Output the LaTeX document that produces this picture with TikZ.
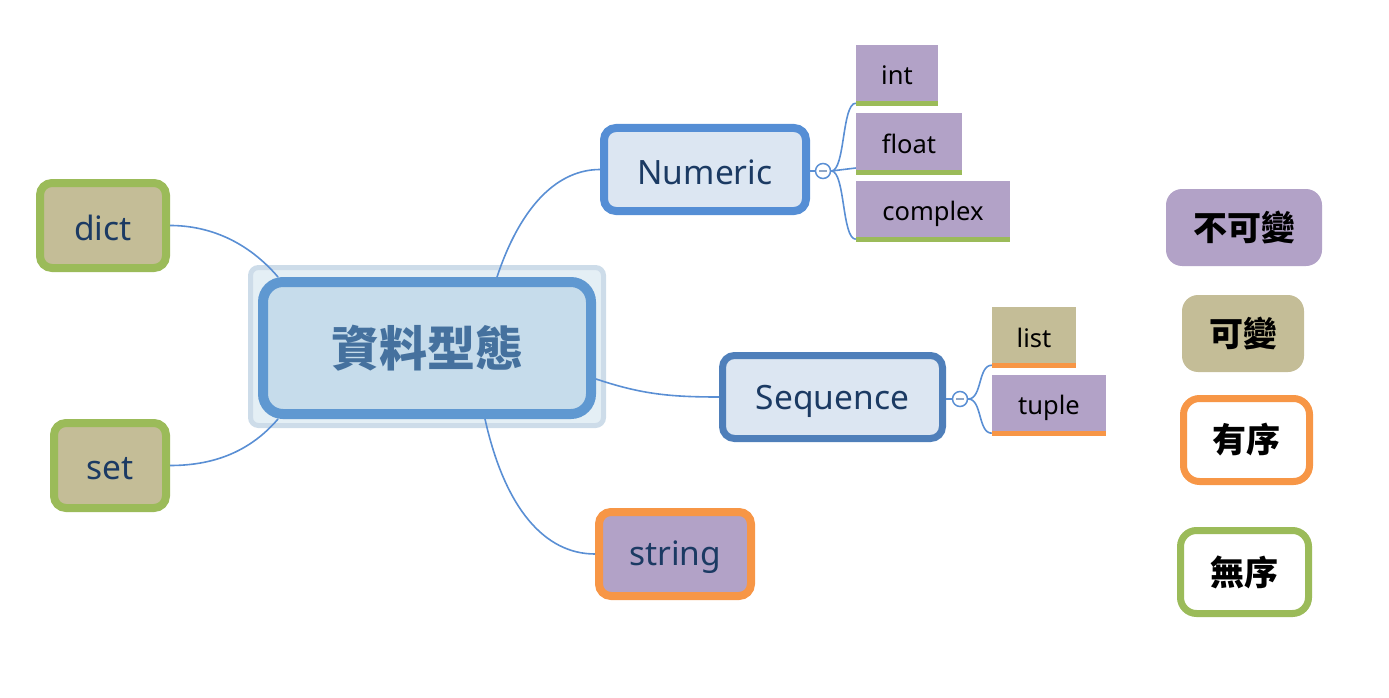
\documentclass[tikz,border=0pt]{standalone}
\usepackage{fontspec}
\setmainfont{Noto Sans}
\newfontfamily\cjk{Noto Sans CJK TC}
\definecolor{edge}{HTML}{5A8FD4}
\definecolor{mainborder}{HTML}{5F98D1}
\definecolor{mainfill}{HTML}{C6DCEB}
\definecolor{halofill}{HTML}{E4EFF5}
\definecolor{haloline}{HTML}{CDDCE9}
\definecolor{maintext}{HTML}{45719E}
\definecolor{numborder}{HTML}{558ED5}
\definecolor{seqborder}{HTML}{4F7FBA}
\definecolor{lightfill}{HTML}{DCE6F2}
\definecolor{navy}{HTML}{1B3A63}
\definecolor{purp}{HTML}{B2A2C7}
\definecolor{tan}{HTML}{C4BD97}
\definecolor{grn}{HTML}{9BBB59}
\definecolor{orng}{HTML}{F79646}
\definecolor{minus}{HTML}{8FA6C6}
\newcommand{\lowr}[2]{\raisebox{-#1pt}[\height][\depth]{#2}}
\tikzset{
  branch/.style={draw=#1, line width=8pt, rounded corners=12pt, inner sep=0pt,
    text=navy, font=\fontsize{33.5}{38}\selectfont},
  leaf/.style={fill=#1, inner sep=0pt, minimum height=61pt, text=black,
    font=\fontsize{25.5}{30}\selectfont},
  bar/.style={fill=#1},
  legend/.style={rounded corners=16pt, inner sep=0pt, text=black,
    font=\cjk\bfseries\fontsize{34}{38}\selectfont},
  conn/.style={draw=edge, line width=1.6pt},
  toggle/.style={circle, draw=edge, fill=white, line width=1.5pt, minimum size=15pt, inner sep=0pt},
}
\begin{document}
\begin{tikzpicture}[x=1pt, y=-1pt]
\useasboundingbox (0,0) rectangle (1389,698);
% halo and central node
\node[draw=haloline, fill=halofill, line width=5pt, rounded corners=8pt,
  minimum width=353pt, minimum height=158pt] (halo) at (427,346.5) {};
\node[draw=mainborder, fill=mainfill, line width=10pt, rounded corners=20pt,
  minimum width=328pt, minimum height=132pt, text=maintext,
  font=\cjk\bfseries\fontsize{48}{56}\selectfont] (center) at (427,348) {資料型態};
% branches
\node[branch=numborder, fill=lightfill, minimum width=202pt, minimum height=83pt] (numeric) at (705,169.5) {\lowr{3}{Numeric}};
\node[branch=seqborder, fill=lightfill, line width=7pt, minimum width=220pt, minimum height=83pt] (sequence) at (832.5,397) {\lowr{4}{Sequence}};
\node[branch=orng, fill=purp, minimum width=152pt, minimum height=84pt] (string) at (675,554) {\lowr{3}{string}};
\node[branch=grn, fill=tan, minimum width=126pt, minimum height=85pt] (dict) at (103,225.5) {\lowr{2}{dict}};
\node[branch=grn, fill=tan, minimum width=112pt, minimum height=85pt] (set) at (110,465.5) {\lowr{3}{set}};
% leaves
\node[leaf=purp, minimum width=82pt] (int) at (897,75.5) {int};
\node[leaf=purp, minimum width=106pt] (float) at (909,144) {float};
\node[leaf=purp, minimum width=154pt] (complex) at (933,211.5) {\lowr{2}{complex}};
\node[leaf=tan, minimum width=84pt] (list) at (1034,337.5) {list};
\node[leaf=purp, minimum width=114pt] (tuple) at (1049,405.5) {\lowr{2}{tuple}};
\fill[bar=grn] (int.south west) rectangle ([yshift=5pt]int.south east);
\fill[bar=grn] (float.south west) rectangle ([yshift=5pt]float.south east);
\fill[bar=grn] (complex.south west) rectangle ([yshift=5pt]complex.south east);
\fill[bar=orng] (list.south west) rectangle ([yshift=5pt]list.south east);
\fill[bar=orng] (tuple.south west) rectangle ([yshift=5pt]tuple.south east);
% toggles
\node[toggle] (t1) at (823,171) {};
\node[toggle] (t2) at (960,399) {};
\draw[minus, line width=1.5pt] ([xshift=-4pt]t1.center) -- ([xshift=4pt]t1.center);
\draw[minus, line width=1.5pt] ([xshift=-4pt]t2.center) -- ([xshift=4pt]t2.center);
% connectors
\draw[conn] (numeric.east |- t1.west) -- (t1.west);
\draw[conn] (sequence.east |- t2.west) -- (t2.west);
\draw[conn] (t1.east) .. controls +(14,0) and +(-14,0) .. ([yshift=3pt]int.south west);
\draw[conn] (t1.east) -- ([yshift=3pt]float.south west |- t1.east);
\draw[conn] (t1.east) .. controls +(14,0) and +(-14,0) .. ([yshift=3pt]complex.south west);
\draw[conn] (t2.east) .. controls +(14,0) and +(-14,0) .. ([yshift=3pt]list.south west);
\draw[conn] (t2.east) .. controls +(14,0) and +(-14,0) .. ([yshift=3pt]tuple.south west);
\draw[conn] ([shift={(70,0)}]center.north) .. controls +(25,-75) and +(-40,0) .. (numeric.west);
\draw[conn] ([shift={(0,31)}]center.east) .. controls +(45,15) and +(-50,0) .. (sequence.west);
\draw[conn] ([shift={(58,0)}]center.south) .. controls +(20,90) and +(-50,0) .. (string.west);
\draw[conn] ([shift={(-149,0)}]center.north) .. controls +(-30,-35) and +(40,0) .. (dict.east);
\draw[conn] ([shift={(-149,0)}]center.south) .. controls +(-30,35) and +(40,0) .. (set.east);
% legend
\node[legend, fill=purp, minimum width=156pt, minimum height=77pt] (immut) at (1244,227.5) {不可變};
\node[legend, fill=tan, minimum width=122pt, minimum height=77pt] (mut) at (1243,333.5) {可變};
\node[legend, draw=orng, fill=white, line width=7pt, minimum width=126pt, minimum height=83pt] (ordered) at (1246.5,440) {有序};
\node[legend, draw=grn, fill=white, line width=7pt, minimum width=128pt, minimum height=83pt] (unordered) at (1244.5,572) {無序};
\end{tikzpicture}
\end{document}
